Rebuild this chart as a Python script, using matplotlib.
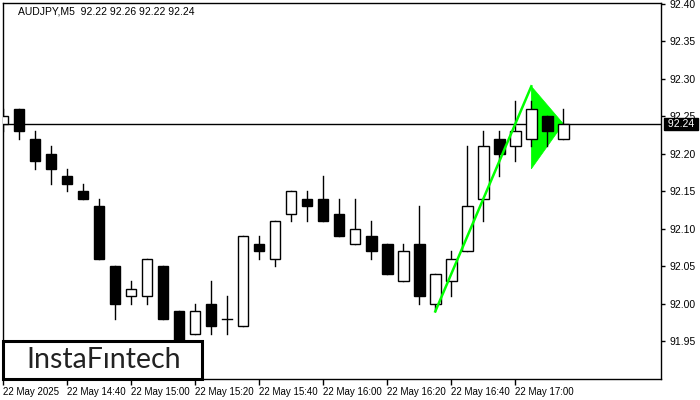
import matplotlib
matplotlib.use("Agg")
import matplotlib.pyplot as plt
from matplotlib.patches import Rectangle, Polygon

# AUDJPY M5 candles, 22 May 2025 from 14:20
opens  = [92.24, 92.26, 92.22, 92.20, 92.17, 92.15, 92.13, 92.05, 92.01, 92.01,
          92.05, 91.99, 91.96, 92.00, 91.98, 91.97, 92.08, 92.06, 92.12, 92.14,
          92.14, 92.12, 92.08, 92.09, 92.08, 92.03, 92.08, 92.00, 92.03, 92.07,
          92.14, 92.22, 92.21, 92.22, 92.25, 92.22]
highs  = [92.26, 92.26, 92.23, 92.21, 92.18, 92.16, 92.14, 92.05, 92.03, 92.06,
          92.05, 91.99, 92.00, 92.03, 92.01, 92.09, 92.09, 92.11, 92.15, 92.15,
          92.17, 92.14, 92.14, 92.11, 92.08, 92.08, 92.13, 92.04, 92.07, 92.21,
          92.23, 92.23, 92.27, 92.27, 92.25, 92.26]
lows   = [92.23, 92.22, 92.18, 92.16, 92.15, 92.14, 92.06, 91.98, 92.00, 92.00,
          91.98, 91.93, 91.96, 91.96, 91.96, 91.97, 92.06, 92.05, 92.11, 92.11,
          92.11, 92.09, 92.08, 92.06, 92.04, 92.03, 92.00, 91.99, 92.01, 92.07,
          92.11, 92.17, 92.19, 92.21, 92.21, 92.22]
closes = [92.25, 92.23, 92.19, 92.18, 92.16, 92.14, 92.06, 92.00, 92.02, 92.06,
          91.98, 91.94, 91.99, 91.97, 91.98, 92.09, 92.07, 92.11, 92.15, 92.13,
          92.11, 92.09, 92.10, 92.07, 92.04, 92.07, 92.01, 92.04, 92.06, 92.13,
          92.21, 92.20, 92.23, 92.26, 92.23, 92.24]

time_labels = ["22 May 2025", "22 May 14:40", "22 May 15:00", "22 May 15:20",
               "22 May 15:40", "22 May 16:00", "22 May 16:20", "22 May 16:40",
               "22 May 17:00"]
price_ticks = [91.95, 92.00, 92.05, 92.10, 92.15, 92.20, 92.25, 92.30, 92.35, 92.40]

# bullish pennant: pole and flag (candle index, price)
pole_idx = [27, 33]
pole_price = [91.99, 92.29]
flag_idx = [33, 35, 33]
flag_price = [92.29, 92.24, 92.18]

last_price = 92.24
green = "#00ff00"
font = "Liberation Sans"

fig = plt.figure(figsize=(7, 4), dpi=100)
ax = fig.add_axes([3 / 700, 21 / 400, 658 / 700, 376 / 400])
ax.set_xlim(0, 41.1)
ax.set_ylim(91.90, 92.401)

# flag triangle sits under the candles
ax.add_patch(Polygon(list(zip(flag_idx, flag_price)), closed=True,
                     facecolor=green, edgecolor=green, lw=0.5, zorder=1.5))

# candles
body_w = 0.66
for i in range(len(opens)):
    o, h, l, c = opens[i], highs[i], lows[i], closes[i]
    ax.plot([i, i], [l, h], color="black", lw=1, zorder=2)
    bottom = min(o, c)
    height = abs(c - o)
    if height < 0.002:
        ax.plot([i - body_w / 2, i + body_w / 2], [o, o], color="black", lw=1, zorder=3)
        continue
    face = "white" if c > o else "black"
    ax.add_patch(Rectangle((i - body_w / 2, bottom), body_w, height,
                           facecolor=face, edgecolor="black", lw=1, zorder=3))

# pole line on top
ax.plot(pole_idx, pole_price, color=green, lw=1.8, zorder=4)

# current price line
ax.axhline(last_price, color="black", lw=1, zorder=1)

# axes styling
ax.yaxis.tick_right()
ax.set_yticks(price_ticks)
ax.set_yticklabels([f"{p:.2f}" for p in price_ticks], family=font)
ax.tick_params(axis="y", direction="out", length=3, width=1, labelsize=7.5,
               pad=3, colors="black")
ax.set_xticks([4 * k for k in range(len(time_labels))])
ax.set_xticklabels(time_labels, ha="left", family=font)
ax.tick_params(axis="x", direction="out", length=4, width=1, labelsize=7, pad=2)
for s in ax.spines.values():
    s.set_linewidth(1)

ax.text(1.006, last_price, f" {last_price:.2f} ", transform=ax.get_yaxis_transform(),
        color="white", fontsize=7.5, family=font, va="center", ha="left",
        bbox=dict(boxstyle="square,pad=0.1", facecolor="black", edgecolor="black"),
        clip_on=False, zorder=10)

ax.text(15 / 658, 1 - 4 / 376, "AUDJPY,M5  92.22 92.26 92.22 92.24",
        transform=ax.transAxes, fontsize=7.5, family=font, va="top", ha="left")

# logo box
ax.add_patch(Rectangle((0, 0), 199 / 658, 38 / 376, transform=ax.transAxes,
                       facecolor="white", edgecolor="black", lw=2.2, zorder=8,
                       clip_on=False))
ax.text(101 / 658, 19 / 376, "InstaFıntech", transform=ax.transAxes,
        fontsize=20.5, color="#222222", ha="center", va="center",
        family="Lato", zorder=9)

fig.savefig("out.png", dpi=100)
